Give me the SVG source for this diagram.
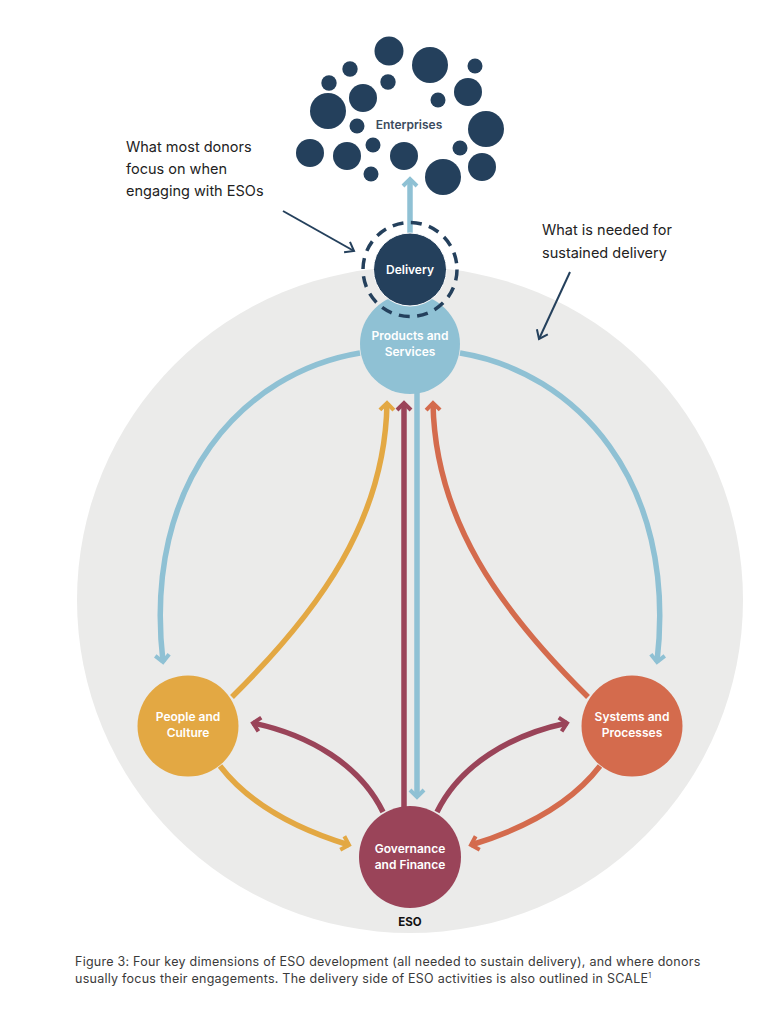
<svg xmlns="http://www.w3.org/2000/svg" width="779" height="1024" viewBox="0 0 779 1024">
<style>
.lbl{font-family:Inter,"Liberation Sans",sans-serif;font-weight:600;font-size:12px;fill:#ffffff;text-anchor:middle}
.note{font-family:Inter,"Liberation Sans",sans-serif;font-size:14.5px;fill:#222222}
.cap{font-family:Inter,"Liberation Sans",sans-serif;font-size:12.5px;letter-spacing:0.25px;fill:#3a3a3a}
.ent{fill:#24405c}
.c{fill:none;stroke-width:5.5}
.blue{stroke:#8fc1d4}.yel{stroke:#e3a843}.bur{stroke:#9a4459}.ora{stroke:#d46b4d}
.ann{fill:none;stroke:#24405c;stroke-width:2}
</style>
<defs>
<marker id="mB" markerUnits="userSpaceOnUse" viewBox="-12 -10 14 20" markerWidth="14" markerHeight="20" refX="0" refY="0" orient="auto" overflow="visible"><path d="M-7,-7 L0,0 L-7,7" fill="none" stroke="#8fc1d4" stroke-width="4"/></marker>
<marker id="mY" markerUnits="userSpaceOnUse" viewBox="-12 -10 14 20" markerWidth="14" markerHeight="20" refX="0" refY="0" orient="auto" overflow="visible"><path d="M-7,-7 L0,0 L-7,7" fill="none" stroke="#e3a843" stroke-width="4"/></marker>
<marker id="mR" markerUnits="userSpaceOnUse" viewBox="-12 -10 14 20" markerWidth="14" markerHeight="20" refX="0" refY="0" orient="auto" overflow="visible"><path d="M-7,-7 L0,0 L-7,7" fill="none" stroke="#9a4459" stroke-width="4"/></marker>
<marker id="mO" markerUnits="userSpaceOnUse" viewBox="-12 -10 14 20" markerWidth="14" markerHeight="20" refX="0" refY="0" orient="auto" overflow="visible"><path d="M-7,-7 L0,0 L-7,7" fill="none" stroke="#d46b4d" stroke-width="4"/></marker>
<marker id="mN" markerUnits="userSpaceOnUse" viewBox="-12 -10 14 20" markerWidth="14" markerHeight="20" refX="0" refY="0" orient="auto" overflow="visible"><path d="M-8,-6 L0,0 L-8,6" fill="none" stroke="#24405c" stroke-width="2"/></marker>
</defs>
<rect width="779" height="1024" fill="#ffffff"/>
<circle id="eso-bg" cx="410" cy="600" r="333" fill="#ebebea"/>

<g id="enterprises">
<circle class="ent" cx="389" cy="51" r="14.5"/>
<circle class="ent" cx="430" cy="65" r="18"/>
<circle class="ent" cx="475" cy="66" r="7.5"/>
<circle class="ent" cx="350" cy="69" r="7.7"/>
<circle class="ent" cx="329" cy="83" r="7.7"/>
<circle class="ent" cx="388" cy="82" r="7.7"/>
<circle class="ent" cx="363" cy="98" r="14"/>
<circle class="ent" cx="468" cy="92" r="14"/>
<circle class="ent" cx="438" cy="100" r="7.5"/>
<circle class="ent" cx="328" cy="111" r="18"/>
<circle class="ent" cx="357" cy="126" r="7.5"/>
<circle class="ent" cx="486" cy="129" r="18"/>
<circle class="ent" cx="310" cy="153" r="14"/>
<circle class="ent" cx="347" cy="156" r="14"/>
<circle class="ent" cx="373" cy="145" r="7.5"/>
<circle class="ent" cx="404" cy="156" r="14"/>
<circle class="ent" cx="460" cy="148" r="7.5"/>
<circle class="ent" cx="482" cy="167" r="14"/>
<circle class="ent" cx="443" cy="177" r="18"/>
<circle class="ent" cx="371" cy="174" r="7.5"/>
<text x="409" y="129" font-family="Inter,'Liberation Sans',sans-serif" font-weight="600" font-size="12px" fill="#3b4b5e" text-anchor="middle">Enterprises</text>
</g>

<g id="connectors">
<path class="c blue" d="M410,233 L410,179" marker-end="url(#mB)"/>
<path class="c blue" d="M360,353 C245,372 142,480 163,662" marker-end="url(#mB)"/>
<path class="c blue" d="M460,353 C575,372 678,480 657,662" marker-end="url(#mB)"/>
<path class="c blue" d="M417,385 L417,797" marker-end="url(#mB)"/>
<path class="c bur" d="M404,808 L404,403" marker-end="url(#mR)"/>
<path class="c yel" d="M232,697 C320,610 385,520 387,403" marker-end="url(#mY)"/>
<path class="c ora" d="M588,697 C500,610 435,520 433,403" marker-end="url(#mO)"/>
<path class="c yel" d="M220,766 C250,805 300,830 349,845" marker-end="url(#mY)"/>
<path class="c ora" d="M600,766 C570,805 520,830 471,845" marker-end="url(#mO)"/>
<path class="c bur" d="M383,812 C360,765 310,735 253,723" marker-end="url(#mR)"/>
<path class="c bur" d="M437,812 C460,765 510,735 567,723" marker-end="url(#mR)"/>
<path class="ann" d="M283,211 L354,251" marker-end="url(#mN)"/>
<path class="ann" d="M570,272 L539,339" marker-end="url(#mN)"/>
</g>

<g id="products">
<circle cx="410" cy="344" r="50" fill="#8fc1d4"/>
<text class="lbl" x="410" y="340">Products and</text>
<text class="lbl" x="410" y="356">Services</text>
</g>
<g id="delivery">
<circle cx="410" cy="269.5" r="36.5" fill="#24405c" stroke="#ffffff" stroke-width="1"/>
<circle cx="410" cy="269.5" r="47" fill="none" stroke="#24405c" stroke-width="3.5" stroke-dasharray="11 7.5"/>
<text class="lbl" x="410" y="274">Delivery</text>
</g>
<g id="people">
<circle cx="188" cy="726" r="50.5" fill="#e3a843"/>
<text class="lbl" x="188" y="721">People and</text>
<text class="lbl" x="188" y="737">Culture</text>
</g>
<g id="systems">
<circle cx="632" cy="726" r="50.5" fill="#d46b4d"/>
<text class="lbl" x="632" y="721">Systems and</text>
<text class="lbl" x="632" y="737">Processes</text>
</g>
<g id="governance">
<circle cx="410" cy="857" r="51" fill="#9a4459"/>
<text class="lbl" x="410" y="853">Governance</text>
<text class="lbl" x="410" y="869">and Finance</text>
</g>
<text x="410" y="926" font-family="Inter,'Liberation Sans',sans-serif" font-weight="700" font-size="11.5px" fill="#111111" text-anchor="middle">ESO</text>

<g id="note-left">
<text class="note" x="126" y="152">What most donors</text>
<text class="note" x="126" y="174">focus on when</text>
<text class="note" x="126" y="196">engaging with ESOs</text>
</g>
<g id="note-right">
<text class="note" x="542" y="235">What is needed for</text>
<text class="note" x="542" y="258">sustained delivery</text>
</g>
<g id="caption">
<text class="cap" x="75" y="966">Figure 3: Four key dimensions of ESO development (all needed to sustain delivery), and where donors</text>
<text class="cap" x="75" y="983">usually focus their engagements. The delivery side of ESO activities is also outlined in SCALE<tspan font-size="7px" dy="-5">1</tspan></text>
</g>
</svg>
